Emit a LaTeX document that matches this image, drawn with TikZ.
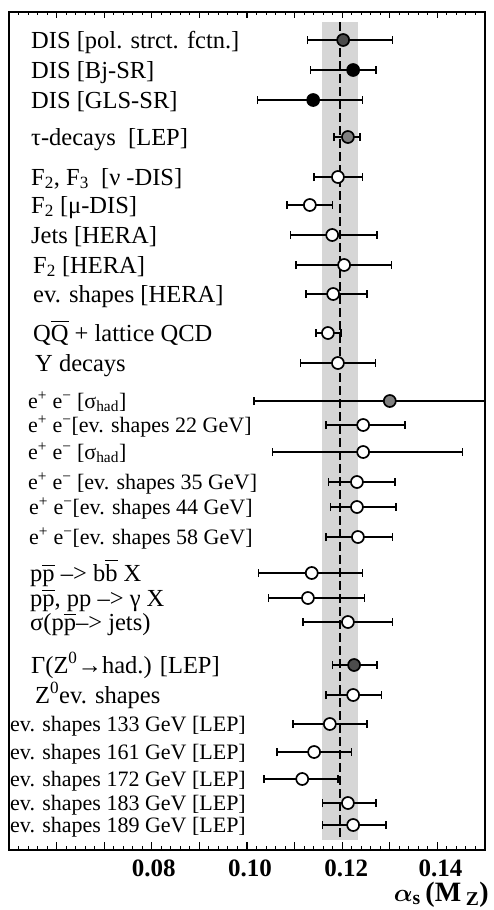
\documentclass[tikz,border=0pt]{standalone}
\usepackage{fontspec}
\setmainfont{Liberation Serif}
\usepackage{amsmath}
\usetikzlibrary{arrows.meta}
\newcommand{\ovl}[1]{\ensuremath{\overline{\mbox{#1}}}}

\begin{document}
\begin{tikzpicture}[x=1pt,y=-1pt,
    lbl/.style={anchor=base west, inner sep=0pt, font=\fontsize{24.5}{26}\selectfont},
    slbl/.style={anchor=base west, inner sep=0pt, font=\fontsize{22}{24}\selectfont},
    numlbl/.style={anchor=base, inner sep=0pt, font=\fontsize{25}{27}\selectfont\bfseries},
    ebar/.style={line width=1.5pt, {Bar[width=8pt,line width=1.5pt]}-{Bar[width=8pt,line width=1.5pt]}},
    openpt/.style={circle, draw, line width=1.7pt, fill=white, inner sep=0pt, minimum size=12pt},
    fullpt/.style={openpt, fill=black},
    darkpt/.style={openpt, fill=black!70},
    greypt/.style={openpt, fill=black!50}]
    \useasboundingbox (0,0) rectangle (494,910);

\begin{scope}[shift={(-229,0)}, x=47.6pt]
    % world average band and line
    \fill[black!16] (11.57,22) rectangle (12.33,840);
    \draw[line width=2pt, dash pattern=on 9pt off 4pt] (11.95,22) -- (11.95,840);

    % axis ticks
    \foreach \t in {5,5.2,...,15.1} {
      \draw[line width=1pt] (\t,12) -- (\t,15);
      \draw[line width=1pt] (\t,850) -- (\t,846);
    }
    \foreach \t in {6,...,14} {
      \draw[line width=1.2pt] (\t,12) -- (\t,18);
      \draw[line width=1.2pt] (\t,850) -- (\t,842);
    }
    \node[numlbl] (tEight) at ([xshift=2pt]8,876) {0.08};
    \node[numlbl] (tTen) at ([xshift=3pt]10,876) {0.10};
    \node[numlbl] (tTwelve) at ([xshift=4pt]12,876) {0.12};
    \node[numlbl] (tFourteen) at ([xshift=3pt]14,876) {0.14};

    % measurements
    \draw[ebar] (11.26,40) -- (13.07,40);
      \node[darkpt] (pDisPol) at (12.02,40) {};
    \draw[ebar] (11.32,70) -- (12.73,70);
      \node[fullpt] (pDisBj) at (12.23,70) {};
    \draw[ebar] (10.21,100) -- (12.44,100);
      \node[fullpt] (pDisGls) at (11.39,100) {};
    \draw[ebar] (11.81,137) -- (12.39,137);
      \node[greypt] (pTau) at (12.12,137) {};
    \draw[ebar] (11.39,177) -- (12.44,177);
      \node[openpt] (pFTwoThree) at (11.91,177) {};
    \draw[ebar] (10.82,205) -- (11.81,205);
      \node[openpt] (pFTwoMu) at (11.32,205) {};
    \draw[ebar] (10.90,235) -- (12.75,235);
      \node[openpt] (pJetsHera) at (11.79,235) {};
    \draw[ebar] (11.01,265) -- (13.05,265);
      \node[openpt] (pFTwoHera) at (12.04,265) {};
    \draw[ebar] (11.22,294) -- (12.54,294);
      \node[openpt] (pEvHera) at (11.81,294) {};
    \draw[ebar] (11.43,333) -- (11.99,333);
      \node[openpt] (pQqLat) at (11.70,333) {};
    \draw[ebar] (11.11,363) -- (12.71,363);
      \node[openpt] (pUps) at (11.91,363) {};
    \draw[line width=1.5pt, {Bar[width=8pt,line width=1.5pt]}-] (10.13,401) -- (15,401);
      \node[greypt] (pEeHadA) at (13.00,401) {};
    \draw[ebar] (11.64,425) -- (13.34,425);
      \node[openpt] (pEeTwentyTwo) at (12.44,425) {};
    \draw[ebar] (10.52,452) -- (14.54,452);
      \node[openpt] (pEeHadB) at (12.44,452) {};
    \draw[ebar] (11.70,482) -- (13.13,482);
      \node[openpt] (pEeThirtyFive) at (12.31,482) {};
    \draw[ebar] (11.74,507) -- (13.15,507);
      \node[openpt] (pEeFortyFour) at (12.31,507) {};
    \draw[ebar] (11.64,537) -- (13.07,537);
      \node[openpt] (pEeFiftyEight) at (12.33,537) {};
    \draw[ebar] (10.23,573) -- (12.44,573);
      \node[openpt] (pPpBb) at (11.36,573) {};
    \draw[ebar] (10.44,598) -- (12.48,598);
      \node[openpt] (pPpGamma) at (11.28,598) {};
    \draw[ebar] (11.16,622) -- (13.07,622);
      \node[openpt] (pPpJets) at (12.12,622) {};
    \draw[ebar] (11.78,665) -- (12.75,665);
      \node[darkpt] (pZHad) at (12.25,665) {};
    \draw[ebar] (11.64,695) -- (12.84,695);
      \node[openpt] (pZEv) at (12.23,695) {};
    \draw[ebar] (10.95,724) -- (12.54,724);
      \node[openpt] (pLepOne) at (11.74,724) {};
    \draw[ebar] (10.61,752) -- (12.21,752);
      \node[openpt] (pLepTwo) at (11.41,752) {};
    \draw[ebar] (10.34,779) -- (11.93,779);
      \node[openpt] (pLepThree) at (11.16,779) {};
    \draw[ebar] (11.57,803) -- (12.73,803);
      \node[openpt] (pLepFour) at (12.12,803) {};
    \draw[ebar] (11.57,825) -- (12.94,825);
      \node[openpt] (pLepFive) at (12.23,825) {};
\end{scope}

    % frame
    \draw[line width=2pt] (9,12) rectangle (485,850);

    % labels
    \node[lbl] (disPol) at (31,48) {DIS [pol. strct. fctn.]};
    \node[lbl] (disBj) at (31,78) {DIS [Bj-SR]};
    \node[lbl] (disGls) at (31,108) {DIS [GLS-SR]};
    \node[lbl] (tauDec) at (31,145) {τ-decays\ \ [LEP]};
    \node[lbl] (fTwoThree) at (31,185) {F\textsubscript{2}, F\textsubscript{3}\ \ [ν -DIS]};
    \node[lbl] (fTwoMu) at (31,213) {F\textsubscript{2} [μ-DIS]};
    \node[lbl] (jetsHera) at (31,243) {Jets [HERA]};
    \node[lbl] (fTwoHera) at (33,273) {F\textsubscript{2} [HERA]};
    \node[lbl] (evHera) at (33,302) {ev. shapes [HERA]};
    \node[lbl] (qqLat) at (33,341) {Q\ovl{Q} + lattice QCD};
    \node[lbl] (upsDec) at (35,371) {Υ decays};
    \node[slbl] (eeHadA) at (28,408) {e\textsuperscript{+} e\textsuperscript{−} [σ\textsubscript{had}]};
    \node[slbl] (eeTwentyTwo) at (28,432) {e\textsuperscript{+} e\textsuperscript{−}[ev. shapes 22 GeV]};
    \node[slbl] (eeHadB) at (28,459) {e\textsuperscript{+} e\textsuperscript{−} [σ\textsubscript{had}]};
    \node[slbl] (eeThirtyFive) at (28,489) {e\textsuperscript{+} e\textsuperscript{−} [ev. shapes 35 GeV]};
    \node[slbl] (eeFortyFour) at (29,514) {e\textsuperscript{+} e\textsuperscript{−}[ev. shapes 44 GeV]};
    \node[slbl] (eeFiftyEight) at (29,544) {e\textsuperscript{+} e\textsuperscript{−}[ev. shapes 58 GeV]};
    \node[lbl] (ppBb) at (30,581) {p\ovl{p} --{}> b\ovl{b} X};
    \node[lbl] (ppGamma) at (30,606) {p\ovl{p}, pp --{}> γ X};
    \node[lbl] (ppJets) at (30,630) {σ(p\ovl{p}--{}> jets)};
    \node[lbl] (zHad) at (31,673) {Γ(Z\textsuperscript{0}→had.) [LEP]};
    \node[lbl] (zEv) at (35,703) {Z\textsuperscript{0}ev. shapes};
    \node[slbl] (lepOne) at (10,731) {ev. shapes 133 GeV [LEP]};
    \node[slbl] (lepTwo) at (10,759) {ev. shapes 161 GeV [LEP]};
    \node[slbl] (lepThree) at (10,786) {ev. shapes 172 GeV [LEP]};
    \node[slbl] (lepFour) at (10,810) {ev. shapes 183 GeV [LEP]};
    \node[slbl] (lepFive) at (10,832) {ev. shapes 189 GeV [LEP]};

    % axis title
    \node[anchor=base east, inner sep=0pt, font=\fontsize{28}{30}\selectfont\bfseries]
      (axTitle) at (489,901) {$\boldsymbol{\alpha}$\textsubscript{s}\,(M\,\textsubscript{Z})};
\end{tikzpicture}
\end{document}
